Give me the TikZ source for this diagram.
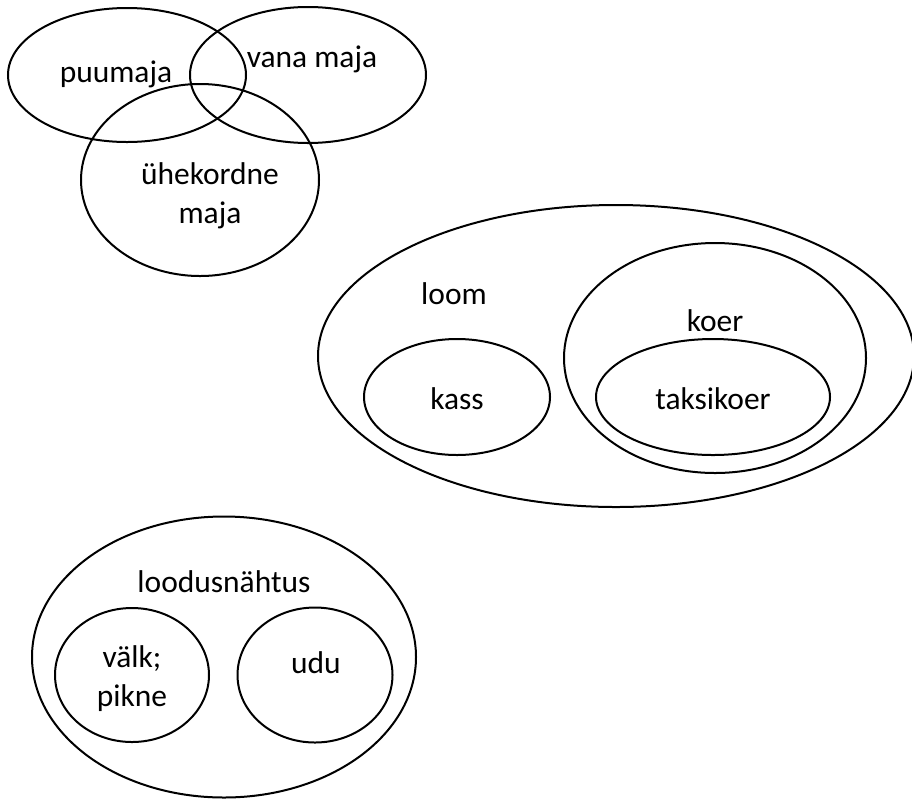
\documentclass[tikz,border=0pt]{standalone}
\usepackage{fontspec}
\setmainfont{Carlito}
\usetikzlibrary{shapes.geometric}
\begin{document}
\begin{tikzpicture}[x=0.75pt,y=-0.75pt,
  set/.style={draw, ellipse, line width=1.5pt, inner sep=0pt, outer sep=0pt},
  lbl/.style={anchor=base, inner sep=0pt, align=center, font=\fontsize{23.6pt}{29.25pt}\selectfont}]
\useasboundingbox (0,0) rectangle (912,800);
% top group
\node[set, minimum width=178.5pt, minimum height=100.5pt] (puu) at (127,75) {};
\node[set, minimum width=177pt, minimum height=102pt] (vana) at (308,75) {};
\node[set, minimum width=178.5pt, minimum height=144pt] (yhe) at (200,180) {};
\node[lbl] (tpuu) at (116,82) {puumaja};
\node[lbl] (tvana) at (312,67) {vana maja};
\node[lbl] (tyhe) at (210,223) {ühekordne\\maja};
% middle group
\node[set, minimum width=447pt, minimum height=226.5pt] (loom) at (616,356) {};
\node[set, minimum width=226.5pt, minimum height=172.5pt] (koer) at (715,358) {};
\node[set, minimum width=175.5pt, minimum height=87pt] (taksi) at (713,397) {};
\node[set, minimum width=139.5pt, minimum height=87pt] (kass) at (457,397) {};
\node[lbl] (tloom) at (454,304) {loom};
\node[lbl] (tkoer) at (715,331) {koer};
\node[lbl] (ttaksi) at (713,409) {taksikoer};
\node[lbl] (tkass) at (457,409) {kass};
% bottom group
\node[set, minimum width=288pt, minimum height=210.75pt] (lood) at (224,657) {};
\node[set, minimum width=115.5pt, minimum height=100.5pt] (valk) at (132,675) {};
\node[set, minimum width=116.25pt, minimum height=101.25pt] (udu) at (315,675) {};
\node[lbl] (tlood) at (224,592) {loodusnähtus};
\node[lbl] (tvalk) at (132,706) {välk;\\pikne};
\node[lbl] (tudu) at (316,673) {udu};
\end{tikzpicture}
\end{document}
